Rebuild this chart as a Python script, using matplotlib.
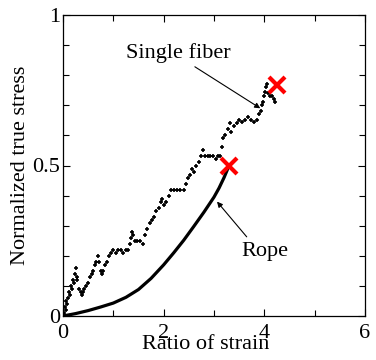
import matplotlib
matplotlib.use("Agg")
import matplotlib.pyplot as plt
from matplotlib.ticker import MultipleLocator

plt.rcParams["font.family"] = ["Liberation Serif", "DejaVu Serif"]

# single fiber: step-like stress-strain points
fiber_x = [0.02, 0.03, 0.05, 0.06, 0.08, 0.10, 0.12, 0.14, 0.16, 0.18, 0.20, 0.22, 0.24, 0.25, 0.27, 0.28,
           0.32, 0.35, 0.37, 0.40, 0.42, 0.46, 0.50, 0.53, 0.57, 0.60, 0.63, 0.66, 0.70, 0.72,
           0.75, 0.77, 0.80, 0.84, 0.88, 0.92, 0.95, 1.00, 1.05, 1.10, 1.15, 1.20, 1.25, 1.30,
           1.34, 1.36, 1.38, 1.40, 1.43, 1.48, 1.53, 1.58, 1.63, 1.67, 1.72, 1.76, 1.80, 1.85,
           1.90, 1.94, 1.97, 2.00, 2.05, 2.10, 2.15, 2.20, 2.27, 2.33, 2.40, 2.45, 2.48, 2.52,
           2.56, 2.60, 2.65, 2.70, 2.75, 2.79, 2.83, 2.88, 2.93, 2.98, 3.03, 3.08, 3.12, 3.15,
           3.18, 3.22, 3.27, 3.32, 3.34, 3.40, 3.45, 3.50, 3.56, 3.62, 3.68, 3.74, 3.80, 3.86,
           3.90, 3.93, 3.95, 3.97, 3.99, 4.02, 4.04, 4.06, 4.08, 4.12, 4.16, 4.20, 4.22]
fiber_y = [0.01, 0.03, 0.02, 0.05, 0.04, 0.06, 0.08, 0.07, 0.10, 0.09, 0.12, 0.11, 0.14, 0.16, 0.13, 0.12,
           0.09, 0.08, 0.07, 0.08, 0.09, 0.10, 0.11, 0.13, 0.14, 0.15, 0.17, 0.18, 0.20, 0.18,
           0.15, 0.14, 0.15, 0.17, 0.18, 0.20, 0.21, 0.22, 0.21, 0.22, 0.22, 0.21, 0.22, 0.22,
           0.24, 0.26, 0.28, 0.27, 0.25, 0.25, 0.25, 0.24, 0.27, 0.29, 0.31, 0.32, 0.33, 0.35,
           0.36, 0.38, 0.39, 0.37, 0.38, 0.40, 0.42, 0.42, 0.42, 0.42, 0.42, 0.44, 0.46, 0.47,
           0.49, 0.48, 0.50, 0.51, 0.53, 0.55, 0.53, 0.53, 0.53, 0.53, 0.52, 0.53, 0.53, 0.56,
           0.59, 0.60, 0.62, 0.64, 0.61, 0.63, 0.64, 0.65, 0.645, 0.65, 0.66, 0.65, 0.645, 0.65,
           0.67, 0.68, 0.70, 0.71, 0.73, 0.745, 0.76, 0.77, 0.74, 0.73, 0.73, 0.72, 0.71]

# rope: smooth curve
rope_x = [0.0, 0.25, 0.5, 0.75, 1.0, 1.25, 1.5, 1.75, 2.0, 2.2, 2.4, 2.6, 2.8, 2.9, 3.0, 3.1, 3.2, 3.3]
rope_y = [0.0, 0.008, 0.018, 0.03, 0.043, 0.062, 0.088, 0.125, 0.17, 0.21, 0.252, 0.298, 0.345, 0.37,
          0.395, 0.425, 0.46, 0.5]

# failure points
break_x = [4.25, 3.3]
break_y = [0.767, 0.5]

fig = plt.figure(figsize=(3.76, 3.6), dpi=100)
ax = fig.add_axes([63 / 376, 1 - 316 / 360, 302 / 376, 301 / 360])

ax.plot(fiber_x, fiber_y, linestyle="none", marker="+", markersize=3, markeredgewidth=1.2, color="black")
ax.plot(rope_x, rope_y, color="black", linewidth=2.3, solid_capstyle="round", solid_joinstyle="round")
ax.plot(break_x, break_y, linestyle="none", marker="x", markersize=11, markeredgewidth=3, color="#ff0000")

arrow_style = dict(arrowstyle="-|>", color="black", lw=0.8, shrinkA=0, shrinkB=0, mutation_scale=8)
ax.text(2.29, 0.875, "Single fiber", fontsize=16, ha="center", va="center")
ax.annotate("", xy=(3.92, 0.69), xytext=(2.62, 0.828), arrowprops=arrow_style)
ax.text(4.02, 0.215, "Rope", fontsize=16, ha="center", va="center")
ax.annotate("", xy=(3.06, 0.38), xytext=(3.65, 0.263), arrowprops=arrow_style)

ax.set_xlim(0, 6)
ax.set_ylim(0, 1)
ax.set_xticks([0, 2, 4, 6])
ax.set_yticks([0, 0.5, 1])
ax.set_yticklabels(["0", "0.5", "1"])
ax.xaxis.set_minor_locator(MultipleLocator(1))
ax.yaxis.set_minor_locator(MultipleLocator(0.1))
ax.tick_params(which="both", direction="in", top=True, right=True, labelsize=16, width=0.8)
ax.tick_params(which="major", length=5)
ax.tick_params(which="minor", length=4)
ax.tick_params(axis="x", which="major", pad=6)
ax.tick_params(axis="y", which="major", pad=2)
for spine in ax.spines.values():
    spine.set_linewidth(0.9)

ax.set_xlabel("Ratio of strain", fontsize=16, labelpad=-6)
ax.xaxis.label.set_x(0.473)
ax.set_ylabel("Normalized true stress", fontsize=16, labelpad=2)

fig.savefig("out.png", dpi=100)
